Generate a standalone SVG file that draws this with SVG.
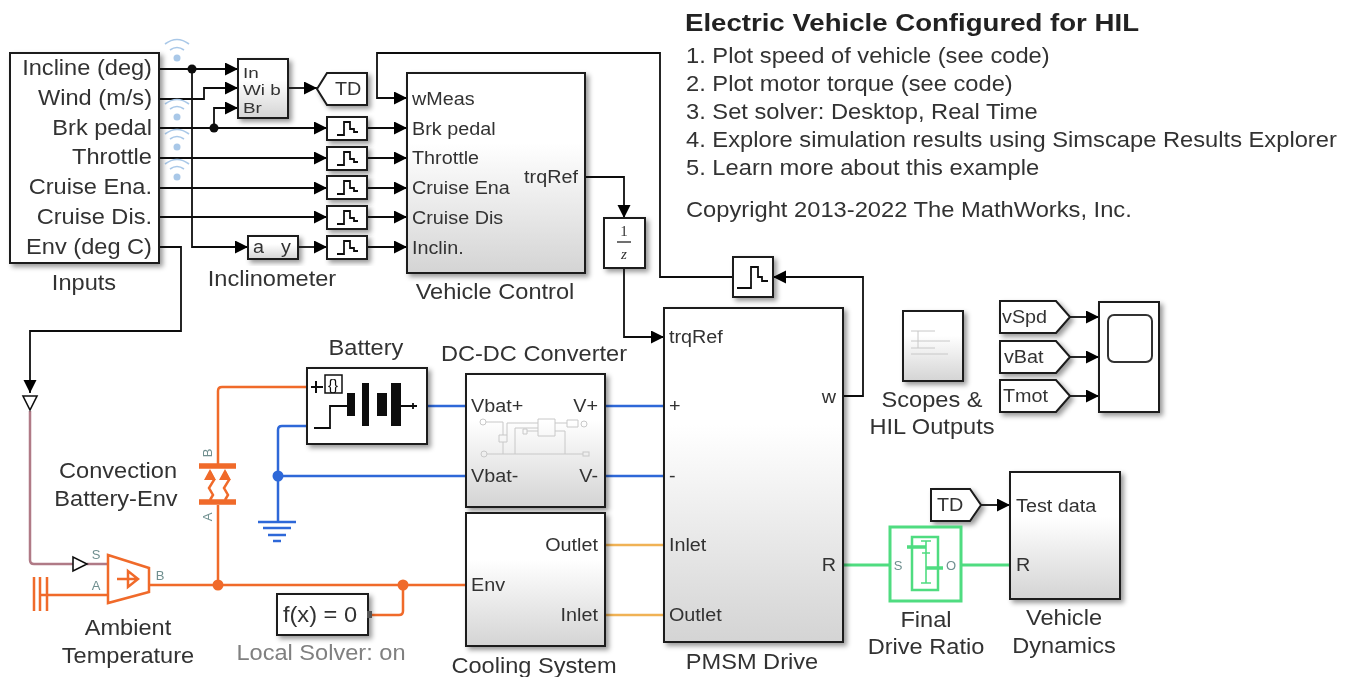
<svg xmlns="http://www.w3.org/2000/svg" width="1348" height="677" viewBox="0 0 1348 677">
<defs>
<linearGradient id="g" x1="0" y1="0" x2="0" y2="1"><stop offset="0.35" stop-color="#fff"/><stop offset="1" stop-color="#d4d4d4"/></linearGradient>
<filter id="s" x="-20%" y="-20%" width="150%" height="150%"><feDropShadow dx="3" dy="3" stdDeviation="2.5" flood-color="#000" flood-opacity="0.4"/></filter>
<filter id="b" filterUnits="userSpaceOnUse" x="0" y="0" width="1348" height="677"><feGaussianBlur stdDeviation="0.55"/></filter>
<marker id="a" markerUnits="userSpaceOnUse" markerWidth="14" markerHeight="14" refX="13" refY="6.5" orient="auto"><path d="M0,0L13,6.5L0,13Z" fill="#000"/></marker>
<style>
text{font-family:"Liberation Sans",Arial,sans-serif;fill:#333}
.l,.i,.p,.m,.pe,.t,.h{transform-box:fill-box}
.l{font-size:21.5px;text-anchor:middle;transform-origin:center;transform:scaleX(1.098)}
.i{font-size:21.5px;text-anchor:end;transform-origin:right;transform:scaleX(1.098)}
.p{font-size:18.5px;transform-origin:left;transform:scaleX(1.07)}
.m{font-size:15px;transform-origin:left;transform:scaleX(1.26)}
.pe{font-size:18.5px;text-anchor:end;transform-origin:right;transform:scaleX(1.07)}
.t{font-size:21.5px;transform-origin:left;transform:scaleX(1.103)}
.h{font-size:24.5px;font-weight:bold;fill:#222;transform-origin:left;transform:scaleX(1.127)}
.tag{font-size:13px;fill:#6f8f8f;text-anchor:middle}
.bk{fill:#fff;stroke:#1a1a1a;stroke-width:2;filter:url(#s)}
.sub{fill:url(#g);stroke:#1a1a1a;stroke-width:2;filter:url(#s)}
.sig{fill:none;stroke:#111;stroke-width:1.8;marker-end:url(#a)}
.ln{fill:none;stroke:#111;stroke-width:1.8}
.or{fill:none;stroke:#f06a2a;stroke-width:2.5}
.bl{fill:none;stroke:#2f68d8;stroke-width:2.5}
.ye{fill:none;stroke:#f0b254;stroke-width:2.5}
.gr{fill:none;stroke:#4fdc80;stroke-width:3}
.sym{fill:none;stroke:#111;stroke-width:1.8}
.wifi{fill:none;stroke:#a9c8e8;stroke-width:1.6}
.faint{fill:none;stroke:#c8c8c8;stroke-width:1}
</style>
</defs>
<g filter="url(#b)">
<g id="connectors">
<path class="sig" d="M159,69H238"/><path class="sig" d="M192,69V247H248"/>
<path class="sig" d="M159,99H204V88H238"/><path class="sig" d="M214,128V108H238"/>
<path class="sig" d="M159,128H327"/><path class="sig" d="M159,158H327"/><path class="sig" d="M159,188H327"/><path class="sig" d="M159,217H327"/>
<path class="sig" d="M298,247H327"/><path class="sig" d="M288,88H317"/>
<path class="sig" d="M367,128H407"/><path class="sig" d="M367,158H407"/><path class="sig" d="M367,188H407"/><path class="sig" d="M367,217H407"/><path class="sig" d="M367,247H407"/>
<path class="ln" d="M159,247H181V331H30V360"/><path class="sig" d="M30,360V393"/>
<path class="sig" d="M733,277H660V53H377V98H407"/>
<path class="sig" d="M585,177H624V218"/><path class="sig" d="M624,268V337H664"/>
<path class="sig" d="M843,396H863V277H773"/>
<path class="sig" d="M1070,317H1099"/><path class="sig" d="M1070,357H1099"/><path class="sig" d="M1070,396H1099"/>
<path class="sig" d="M981,505H1010"/>
<circle cx="192" cy="69" r="4.5" fill="#111"/><circle cx="214" cy="128" r="4.5" fill="#111"/>
<path d="M30,411V560Q30,564 34,564H73M87,564H108" fill="none" stroke="#b07a86" stroke-width="2.5"/>
<path class="or" d="M40,595H108M149,585H466M218,585V505M218,467V391Q218,387 222,387H307M372,615H399Q403,615 403,611V585"/>
<circle cx="218" cy="585" r="5.5" fill="#f06a2a"/><circle cx="403" cy="585" r="5.5" fill="#f06a2a"/>
<path class="bl" d="M427,406H466M605,406H664M605,476H664M278,476H466M307,426H282Q278,426 278,430V522"/>
<circle cx="278" cy="476" r="5.5" fill="#2f68d8"/>
<path class="ye" d="M605,545H664M605,615H664"/>
<path class="gr" d="M843,565H890M961,565H1010"/>
</g>
<g id="wifi">
<circle cx="177" cy="58" r="3.5" fill="#a9c8e8"/><path class="wifi" d="M170,50Q177,45 184,50M165,44Q177,35 189,44"/>
<circle cx="177" cy="117" r="3.5" fill="#a9c8e8"/><path class="wifi" d="M170,109Q177,104 184,109M165,104Q177,95 189,104"/>
<circle cx="177" cy="147" r="3.5" fill="#a9c8e8"/><path class="wifi" d="M170,139Q177,134 184,139M165,134Q177,125 189,134"/>
<circle cx="177" cy="177" r="3.5" fill="#a9c8e8"/><path class="wifi" d="M170,169Q177,164 184,169M165,164Q177,155 189,164"/>
</g>
<g id="inputs"><rect class="bk" x="10" y="53" width="149" height="210"/>
<text class="i" x="152" y="75">Incline (deg)</text><text class="i" x="152" y="105">Wind (m/s)</text><text class="i" x="152" y="135">Brk pedal</text><text class="i" x="152" y="164">Throttle</text><text class="i" x="152" y="194">Cruise Ena.</text><text class="i" x="152" y="224">Cruise Dis.</text><text class="i" x="152" y="254">Env (deg C)</text>
<text class="l" x="84" y="290">Inputs</text></g>
<g id="mux"><rect class="sub" x="238" y="59" width="50" height="59"/><text class="m" x="243" y="78">In</text><text class="m" x="243" y="95">Wi b</text><text class="m" x="243" y="113">Br</text></g>
<g id="td-goto"><path class="bk" d="M317,89L327,73H367V105H327Z"/><text class="p" x="335" y="95">TD</text></g>
<g id="rate1"><rect class="bk" x="327" y="117" width="40" height="23"/><path class="sym" d="M337,135H344V122H350V129H354V132H358"/></g>
<g id="rate2"><rect class="bk" x="327" y="147" width="40" height="23"/><path class="sym" d="M337,165H344V152H350V159H354V162H358"/></g>
<g id="rate3"><rect class="bk" x="327" y="176" width="40" height="23"/><path class="sym" d="M337,194H344V181H350V188H354V191H358"/></g>
<g id="rate4"><rect class="bk" x="327" y="206" width="40" height="23"/><path class="sym" d="M337,224H344V211H350V218H354V221H358"/></g>
<g id="rate5"><rect class="bk" x="327" y="236" width="40" height="23"/><path class="sym" d="M337,254H344V241H350V248H354V251H358"/></g>
<g id="inclinometer"><rect class="sub" x="248" y="236" width="50" height="23"/><text class="p" x="253" y="253">a</text><text class="p" x="281" y="253">y</text><text class="l" x="272" y="286">Inclinometer</text></g>
<g id="vehicle-control"><rect class="sub" x="407" y="73" width="178" height="200"/>
<text class="p" x="412" y="105">wMeas</text><text class="p" x="412" y="135">Brk pedal</text><text class="p" x="412" y="164">Throttle</text><text class="p" x="412" y="194">Cruise Ena</text><text class="p" x="412" y="224">Cruise Dis</text><text class="p" x="412" y="254">Inclin.</text><text class="pe" x="578" y="183">trqRef</text>
<text class="l" x="495" y="299">Vehicle Control</text></g>
<g id="unit-delay"><rect class="bk" x="604" y="218" width="41" height="50"/><text x="624" y="236" font-size="15" text-anchor="middle" style="font-family:'Liberation Serif',serif">1</text><path d="M617,242H631" stroke="#333" stroke-width="1.4"/><text x="624" y="259" font-size="15" font-style="italic" text-anchor="middle" style="font-family:'Liberation Serif',serif">z</text></g>
<g id="rate6"><rect class="bk" x="733" y="257" width="40" height="40"/><path class="sym" d="M737,288H751V267H758V277H762V281H768"/></g>
<g id="pmsm"><rect class="sub" x="664" y="308" width="179" height="334"/>
<text class="p" x="669" y="343">trqRef</text><text class="p" x="669" y="412">+</text><text class="p" x="669" y="482">-</text><text class="p" x="669" y="551">Inlet</text><text class="p" x="669" y="621">Outlet</text><text class="pe" x="836" y="403">w</text><text class="pe" x="836" y="571">R</text>
<text class="l" x="752" y="669">PMSM Drive</text></g>
<g id="battery"><rect class="bk" x="307" y="368" width="120" height="76"/>
<path d="M311,387H323M316,381V393" stroke="#111" stroke-width="2"/><path d="M325,375H342V393H325Z" fill="none" stroke="#111" stroke-width="1.5"/><text x="333" y="390" font-size="15" text-anchor="middle" style="fill:#111">{}</text>
<path d="M314,428H330V406H347" class="ln"/>
<rect x="347" y="393" width="8" height="23" fill="#111"/><rect x="362" y="383" width="7" height="43" fill="#111"/><rect x="377" y="393" width="10" height="23" fill="#111"/><rect x="391" y="383" width="10" height="43" fill="#111"/><path d="M401,406H417M413,403V409" class="ln"/>
<text class="l" x="366" y="355">Battery</text></g>
<g id="dcdc"><rect class="sub" x="466" y="374" width="139" height="133"/>
<path class="faint" d="M486,422H503V435M503,442V454M487,454H583M507,435V423H538M515,454V428H538M523,429H527V434H523ZM527,431H538M555,423H567M567,420H578V427H567ZM555,431H565V454M499,435H507V442H499ZM538,419H555V436H538Z"/>
<circle cx="483" cy="422" r="3" class="faint"/><circle cx="484" cy="454" r="3" class="faint"/><circle cx="584" cy="424" r="3" class="faint"/><rect x="583" y="452" width="6" height="4" class="faint"/>
<text class="p" x="471" y="412">Vbat+</text><text class="p" x="471" y="482">Vbat-</text><text class="pe" x="598" y="412">V+</text><text class="pe" x="598" y="482">V-</text>
<text class="l" x="534" y="361">DC-DC Converter</text></g>
<g id="cooling"><rect class="sub" x="466" y="513" width="139" height="133"/>
<text class="p" x="471" y="591">Env</text><text class="pe" x="598" y="551">Outlet</text><text class="pe" x="598" y="621">Inlet</text>
<text class="l" x="534" y="673">Cooling System</text></g>
<g id="convection"><path d="M199,466H236M199,502H236" stroke="#f06a2a" stroke-width="5.5" fill="none"/>
<path d="M210,472L214,480L209,488L213,495L210,500M225,472L229,480L224,488L228,495L225,500" stroke="#f06a2a" stroke-width="2.5" fill="none"/>
<path d="M210,469L204,480H216ZM225,469L219,480H231Z" fill="#f06a2a"/>
<text class="tag" transform="translate(212,453) rotate(-90)">B</text><text class="tag" transform="translate(212,517) rotate(-90)">A</text>
<text class="l" x="118" y="478">Convection</text><text class="l" x="116" y="506">Battery-Env</text></g>
<g id="ground"><path d="M258,522H296" stroke="#2f68d8" stroke-width="2.5"/><path d="M263,528H291" stroke="#2f68d8" stroke-width="2.5"/><path d="M268,535H286" stroke="#2f68d8" stroke-width="2.5"/><path d="M273,541H281" stroke="#2f68d8" stroke-width="2.5"/></g>
<g id="env-port"><path d="M23,396H37L30,410Z" fill="#fff" stroke="#111" stroke-width="1.6"/></g>
<g id="s-port"><path d="M73,557V571L87,564Z" fill="#fff" stroke="#111" stroke-width="1.6"/></g>
<g id="ambient"><path d="M108,555L149,568V592L108,603Z" fill="#fff" stroke="#f06a2a" stroke-width="2.5"/><path d="M117,579H137M128,571V587L138,579Z" fill="none" stroke="#f06a2a" stroke-width="2.5"/>
<path d="M34,577V611M40,577V611M47,577V611" stroke="#f06a2a" stroke-width="2.5" fill="none"/>
<text class="tag" x="96" y="559">S</text><text class="tag" x="96" y="590">A</text><text class="tag" x="160" y="580">B</text>
<text class="l" x="128" y="635">Ambient</text><text class="l" x="128" y="663">Temperature</text></g>
<g id="solver"><rect class="bk" x="277" y="594" width="91" height="41"/><text class="l" x="320" y="622">f(x) = 0</text><rect x="367" y="611" width="5" height="7" fill="#555"/>
<text class="l" x="321" y="660" style="fill:#808080">Local Solver: on</text></g>
<g id="scopes-hil"><rect class="sub" x="903" y="311" width="60" height="70"/>
<path class="faint" d="M911,331H935M911,341H950M911,348H935M911,354H948M918,331V348"/>
<text class="l" x="932" y="407">Scopes &amp;</text><text class="l" x="932" y="434">HIL Outputs</text></g>
<g id="from-vspd"><path class="bk" d="M1000,301H1056L1070,317L1056,333H1000Z"/><text class="p" x="1002" y="323">vSpd</text></g>
<g id="from-vbat"><path class="bk" d="M1000,341H1056L1070,357L1056,373H1000Z"/><text class="p" x="1004" y="363">vBat</text></g>
<g id="from-tmot"><path class="bk" d="M1000,380H1056L1070,396L1056,412H1000Z"/><text class="p" x="1003" y="402">Tmot</text></g>
<g id="scope"><rect class="bk" x="1099" y="302" width="60" height="110"/><rect x="1108" y="315" width="44" height="47" rx="6" fill="none" stroke="#333" stroke-width="2"/></g>
<g id="td-from"><path class="bk" d="M931,489H970L981,505L970,521H931Z"/><text class="p" x="937" y="511">TD</text></g>
<g id="final-drive"><rect x="890" y="527" width="71" height="74" fill="#fff" stroke="#4fdc80" stroke-width="3"/>
<path d="M912,537H938V590H912Z" fill="none" stroke="#4fdc80" stroke-width="2.5"/><path d="M926,541V583M921,541H931M922,553H930M921,583H931" fill="none" stroke="#4fdc80" stroke-width="1.6"/><path d="M907,547H926M926,568H943" fill="none" stroke="#4fdc80" stroke-width="3.5"/>
<text class="tag" x="898" y="570">S</text><text class="tag" x="951" y="570">O</text>
<text class="l" x="926" y="627">Final</text><text class="l" x="926" y="654">Drive Ratio</text></g>
<g id="vehicle-dynamics"><rect class="sub" x="1010" y="472" width="110" height="127"/>
<text class="p" x="1016" y="512">Test data</text><text class="p" x="1016" y="571">R</text>
<text class="l" x="1064" y="625">Vehicle</text><text class="l" x="1064" y="653">Dynamics</text></g>
<g id="notes">
<text class="h" x="685" y="31">Electric Vehicle Configured for HIL</text>
<text class="t" x="686" y="63">1. Plot speed of vehicle (see code)</text>
<text class="t" x="686" y="91">2. Plot motor torque (see code)</text>
<text class="t" x="686" y="119">3. Set solver: Desktop, Real Time</text>
<text class="t" x="686" y="147">4. Explore simulation results using Simscape Results Explorer</text>
<text class="t" x="686" y="175">5. Learn more about this example</text>
<text class="t" x="686" y="217">Copyright 2013-2022 The MathWorks, Inc.</text>
</g>
</g>
</svg>
